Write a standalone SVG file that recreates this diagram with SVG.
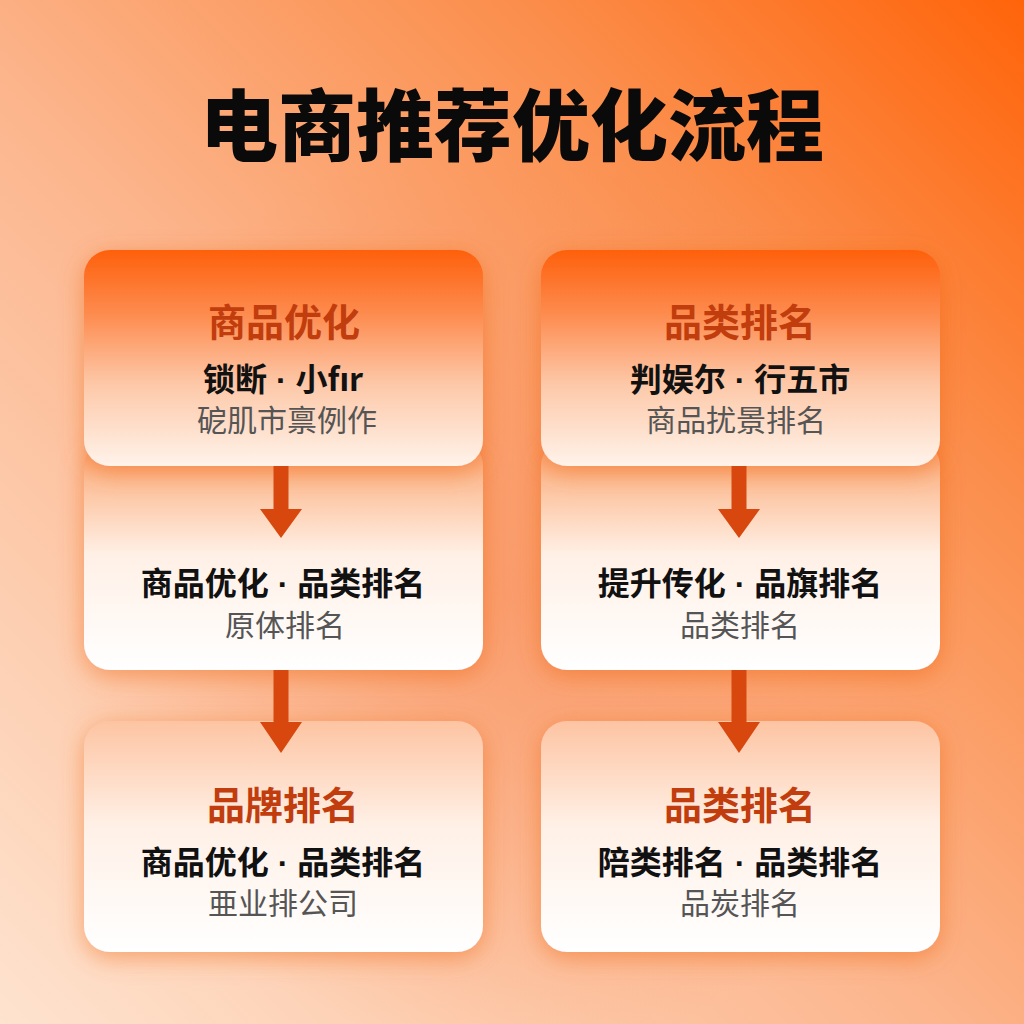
<svg xmlns="http://www.w3.org/2000/svg" width="1024" height="1024" viewBox="0 0 1024 1024">
<defs>
<linearGradient id="bg" x1="0" y1="1" x2="1" y2="0">
<stop offset="0" stop-color="#fee3cf"/>
<stop offset="0.45" stop-color="#fcb68e"/>
<stop offset="0.75" stop-color="#fb8e4c"/>
<stop offset="1" stop-color="#ff640a"/>
</linearGradient>
<radialGradient id="glow" cx="0.5" cy="0.58" r="0.45">
<stop offset="0" stop-color="#f7834a" stop-opacity="0.5"/>
<stop offset="1" stop-color="#f7834a" stop-opacity="0"/>
</radialGradient>
<linearGradient id="topCard" x1="0" y1="0" x2="0" y2="1">
<stop offset="0" stop-color="#fe600c"/>
<stop offset="0.3" stop-color="#fd8c50"/>
<stop offset="0.62" stop-color="#fdc8a8"/>
<stop offset="1" stop-color="#fff3ea"/>
</linearGradient>
<linearGradient id="midCard" x1="0" y1="0" x2="0" y2="1">
<stop offset="0" stop-color="#fc9a62"/>
<stop offset="0.18" stop-color="#fcbf98"/>
<stop offset="0.5" stop-color="#fff0e6"/>
<stop offset="1" stop-color="#ffffff"/>
</linearGradient>
<linearGradient id="botCard" x1="0" y1="0" x2="0" y2="1">
<stop offset="0" stop-color="#fdc4a2"/>
<stop offset="0.45" stop-color="#fff0e6"/>
<stop offset="1" stop-color="#ffffff"/>
</linearGradient>
<filter id="shadow" x="-20%" y="-20%" width="140%" height="140%">
<feDropShadow dx="0" dy="6" stdDeviation="12" flood-color="#ec5a10" flood-opacity="0.45"/>
</filter>
<path id="arrow1" d="M-7.5 0 H7.5 V43 H21 L0 72 L-21 43 H-7.5 Z"/>
<path id="arrow2" d="M-7.5 0 H7.5 V52 H21 L0 83 L-21 52 H-7.5 Z"/>
</defs>
<style>
.title{font-family:"Noto Sans CJK SC","Noto Sans",sans-serif;font-weight:900;font-size:78px;fill:#0a0a0a;text-anchor:middle}
.head{font-family:"Noto Sans CJK SC","Noto Sans",sans-serif;font-weight:700;font-size:38px;fill:#c23d0d;text-anchor:middle}
.main{font-family:"Noto Sans CJK SC","Noto Sans",sans-serif;font-weight:700;font-size:32px;fill:#111111;text-anchor:middle}
.sub{font-family:"Noto Sans CJK SC","Noto Sans",sans-serif;font-weight:400;font-size:30px;fill:#555555;text-anchor:middle}
.dot{font-family:"Liberation Sans",sans-serif;font-weight:700}
.arrow{fill:#d8480e}
</style>
<rect width="1024" height="1024" fill="url(#bg)"/>
<rect width="1024" height="1024" fill="url(#glow)"/>
<text class="title" x="512" y="155">电商推荐优化流程</text>

<g id="node-left-mid">
<rect x="84" y="440" width="399" height="230" rx="26" fill="url(#midCard)" filter="url(#shadow)"/>
<text class="main" x="283" y="595">商品优化<tspan class="dot" xml:space="preserve"> · </tspan>品类排名</text>
<text class="sub" x="285" y="636">原体排名</text>
</g>
<g id="node-right-mid">
<rect x="541" y="440" width="399" height="230" rx="26" fill="url(#midCard)" filter="url(#shadow)"/>
<text class="main" x="740" y="595">提升传化<tspan class="dot" xml:space="preserve"> · </tspan>品旗排名</text>
<text class="sub" x="740" y="636">品类排名</text>
</g>
<g id="node-left-top">
<rect x="84" y="250" width="399" height="216" rx="26" fill="url(#topCard)" filter="url(#shadow)"/>
<text class="head" x="284" y="336">商品优化</text>
<text class="main" x="283" y="391">锁断<tspan class="dot" xml:space="preserve"> · </tspan>小fır</text>
<text class="sub" x="287" y="431">砨肌市禀例作</text>
</g>
<g id="node-right-top">
<rect x="541" y="250" width="399" height="216" rx="26" fill="url(#topCard)" filter="url(#shadow)"/>
<text class="head" x="740" y="336">品类排名</text>
<text class="main" x="740" y="391">判娱尔<tspan class="dot" xml:space="preserve"> · </tspan>行五市</text>
<text class="sub" x="736" y="431">商品扰景排名</text>
</g>
<g id="node-left-bot">
<rect x="84" y="721" width="399" height="231" rx="26" fill="url(#botCard)" filter="url(#shadow)"/>
<text class="head" x="283" y="819">品牌排名</text>
<text class="main" x="283" y="874">商品优化<tspan class="dot" xml:space="preserve"> · </tspan>品类排名</text>
<text class="sub" x="283" y="914">亜业排公司</text>
</g>
<g id="node-right-bot">
<rect x="541" y="721" width="399" height="231" rx="26" fill="url(#botCard)" filter="url(#shadow)"/>
<text class="head" x="740" y="819">品类排名</text>
<text class="main" x="740" y="874">陪类排名<tspan class="dot" xml:space="preserve"> · </tspan>品类排名</text>
<text class="sub" x="740" y="914">品炭排名</text>
</g>

<g id="connectors" class="arrow">
<use href="#arrow1" x="281" y="466"/>
<use href="#arrow1" x="739" y="466"/>
<use href="#arrow2" x="281" y="670"/>
<use href="#arrow2" x="739" y="670"/>
</g>
</svg>
